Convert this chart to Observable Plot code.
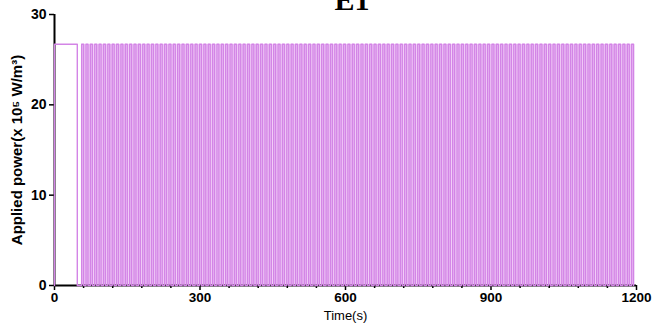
<!DOCTYPE html>
<html>
<head>
<meta charset="utf-8">
<script src="https://cdn.jsdelivr.net/npm/d3@7"></script>
<script src="https://cdn.jsdelivr.net/npm/@observablehq/plot@0.6"></script>
<style>
  html, body { margin: 0; padding: 0; background: #fff; }
  #wrap { position: relative; width: 654px; height: 330px; overflow: hidden; }
  #title { position: absolute; left: 0; width: 704px; text-align: center; top: -15px;
           font-family: "Liberation Serif", "DejaVu Serif", serif; font-weight: bold; font-size: 30px; line-height: 30px; color: #000; }
</style>
</head>
<body>
<div id="wrap">
  <div id="title">E1</div>
  <div id="chart"></div>
</div>
<script>
// ---- data ----
const titleText = "E1";
const xLabel = "Time(s)";
const yLabel = "Applied power(x 10⁵ W/m³)";
const xTicks = [0, 300, 600, 900, 1200];
const xMinorTicks = [60, 120, 180, 240, 360, 420, 480, 540, 660, 720, 780, 840, 960, 1020, 1080, 1140];
const yTicks = [0, 10, 20, 30];
const amplitude = 26.7;          // x 10^5 W/m^3
const initialOnEnd = 47;         // first continuous heating, s
const pulseWidth = 4;            // s
const riseTimes = [56,65,74,83,92,101,110,119,128,137,146,155,164,173,182,191,200,209,218,227,236,245,254,263,272,281,290,299,308,317,326,335,344,353,362,371,380,389,398,407,416,425,434,443,452,461,470,479,488,497,506,515,524,533,542,551,560,569,578,587,596,605,614,623,632,641,650,659,668,677,686,695,704,713,722,731,740,749,758,767,776,785,794,803,812,821,830,839,848,857,866,875,884,893,902,911,920,929,938,947,956,965,974,983,992,1001,1010,1019,1028,1037,1046,1055,1064,1073,1082,1091,1100,1109,1118,1127,1136,1145,1154,1163,1172,1181,1190];

// ---- build the signal table ----
const signal = [{t: 0, p: 0}, {t: 0, p: amplitude}, {t: initialOnEnd, p: amplitude}, {t: initialOnEnd, p: 0}];
for (const r of riseTimes) {
  signal.push({t: r, p: 0}, {t: r, p: amplitude}, {t: r + pulseWidth, p: amplitude}, {t: r + pulseWidth, p: 0});
}

document.getElementById("title").textContent = titleText;

const chart = Plot.plot({
  width: 654,
  height: 330,
  marginLeft: 54,
  marginRight: 18,
  marginTop: 14,
  marginBottom: 45,
  x: {domain: [0, 1200]},
  y: {domain: [0, 30]},
  style: {fontFamily: "Liberation Sans, Arial, sans-serif", fontSize: "13px", fontWeight: "bold", color: "#000", background: "transparent"},
  marks: [
    Plot.rectY([{a: riseTimes[0], b: riseTimes[riseTimes.length - 1] + pulseWidth}], {x1: "a", x2: "b", y1: 0, y2: amplitude, fill: "#f1cdf7"}),
    Plot.axisX({ticks: xMinorTicks, tickSize: 3, tickFormat: () => "", label: null, stroke: "#000", strokeWidth: 1.5}),
    Plot.axisX({ticks: xTicks, tickSize: 5, tickPadding: 2, tickFormat: d => String(d), label: null, stroke: "#000", strokeWidth: 1.5, fontSize: 13.5}),
    Plot.axisY({ticks: yTicks, tickSize: 5, tickPadding: 3, tickFormat: d => String(d), label: null, stroke: "#000", strokeWidth: 1.5, fontSize: 14}),
    Plot.ruleY([0], {stroke: "#000", strokeWidth: 2}),
    Plot.ruleX([0], {stroke: "#000", strokeWidth: 2}),
    Plot.line(signal, {x: "t", y: "p", stroke: "#d385e6", strokeWidth: 1.4, curve: "linear"}),
    Plot.text([yLabel], {frameAnchor: "left", dx: -37, rotate: -90, textAnchor: "middle", fontSize: 15, fontWeight: "bold", fill: "#000"}),
    Plot.text([xLabel], {frameAnchor: "bottom", dy: 34, fontSize: 13, fontWeight: "normal", fill: "#000"})
  ]
});
document.getElementById("chart").appendChild(chart);
</script>
</body>
</html>
